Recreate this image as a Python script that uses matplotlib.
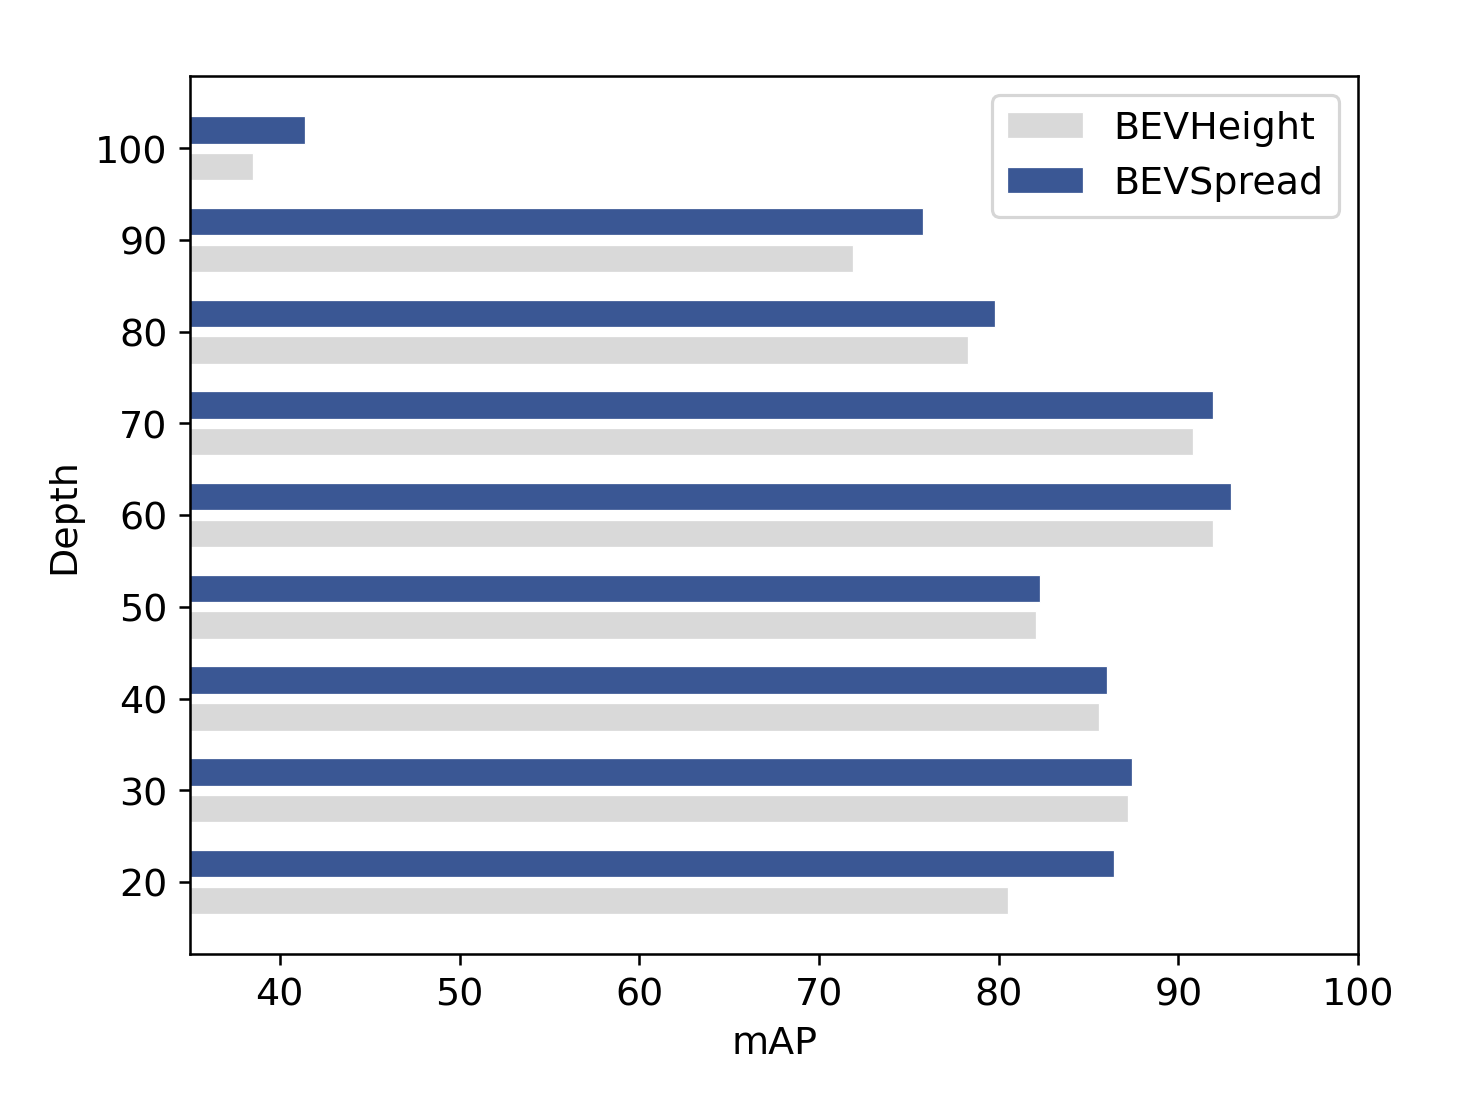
import numpy as np
import matplotlib
matplotlib.use("Agg")
import matplotlib.pyplot as plt

depth = [20, 30, 40, 50, 60, 70, 80, 90, 100]
bevheight = [80.5, 87.2, 85.6, 82.1, 91.9, 90.8, 78.3, 71.9, 38.5]
bevspread = [86.4, 87.4, 86.0, 82.3, 92.9, 91.9, 79.8, 75.8, 41.4]

plt.rcParams["font.size"] = 12

fig = plt.figure(figsize=(6.4, 4.8), dpi=228.3)
ax = fig.add_axes([0.130, 0.1287, 0.7995, 0.801])

y = np.array(depth)
ax.barh(y - 2, bevheight, height=3, color="#d9d9d9", edgecolor="white",
        linewidth=0.4, label="BEVHeight")
ax.barh(y + 2, bevspread, height=3, color="#3a5794", edgecolor="white",
        linewidth=0.4, label="BEVSpread")

ax.set_xlim(35, 100)
ax.set_yticks(depth)
ax.set_xlabel("mAP")
ax.set_ylabel("Depth")
ax.legend(loc="upper right")

fig.savefig("out.png", dpi=228.3)
